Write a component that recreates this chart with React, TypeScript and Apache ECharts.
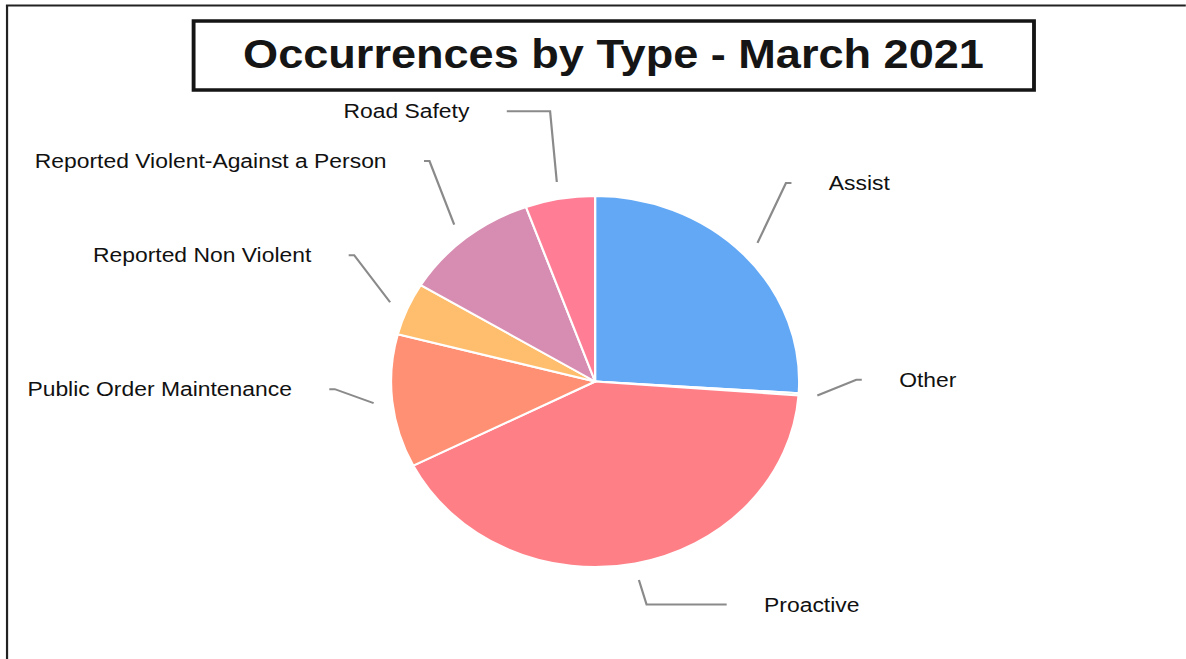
import React, { useEffect, useRef } from "react";
import * as echarts from "echarts";

// ---- data ----
const categories = [
  "Assist",
  "Other",
  "Proactive",
  "Public Order Maintenance",
  "Reported Non Violent",
  "Reported Violent-Against a Person",
  "Road Safety",
];
const values = [26.0, 0.2, 41.3, 11.6, 4.6, 10.8, 5.5];
const colors = ["#62a8f5", "#8fd19e", "#ff7f87", "#ff9073", "#ffbe6e", "#d78db1", "#ff7e95"];
const titleText = "Occurrences by Type - March 2021";

// ---- layout ----
const SX = 1.1; // horizontal stretch of the reference
const W = 1186 / SX;
const H = 659;
const CX = 541;
const CY = 381.5;
const R = 185.5;
const FONT = "'Liberation Sans', Arial, Helvetica, sans-serif";

export default function App() {
  const ref = useRef<HTMLDivElement>(null);
  useEffect(() => {
    const chart = echarts.init(ref.current!, null, { renderer: "svg" });
    const total = values.reduce((a, b) => a + b, 0);
    const mids: number[] = [];
    let acc = 0;
    values.forEach((v) => {
      mids.push(acc + v / 2);
      acc += v;
    });
    chart.setOption({
      animation: false,
      backgroundColor: "#ffffff",
      title: {
        text: titleText,
        left: 176,
        top: 21,
        padding: [12, 45, 16, 45],
        borderColor: "#151515",
        borderWidth: 3.5,
        textStyle: {
          fontFamily: FONT,
          fontWeight: "bold",
          fontSize: 41,
          color: "#151515",
        },
      },
      graphic: [
        {
          type: "line",
          shape: { x1: 6.4, y1: 5, x2: 6.4, y2: H },
          style: { stroke: "#222", lineWidth: 2 },
          silent: true,
        },
        {
          type: "line",
          shape: { x1: 5.4, y1: 5.5, x2: W, y2: 5.5 },
          style: { stroke: "#222", lineWidth: 2 },
          silent: true,
        },
      ],
      series: [
        {
          type: "pie",
          center: [CX, CY],
          radius: R,
          startAngle: 90,
          clockwise: true,
          avoidLabelOverlap: false,
          silent: true,
          data: categories.map((name, i) => ({
            name,
            value: values[i],
            itemStyle: { color: colors[i] },
          })),
          itemStyle: { borderColor: "#ffffff", borderWidth: 2 },
          label: {
            show: true,
            color: "#111111",
            fontSize: 20.8,
            fontFamily: FONT,
            overflow: "none",
          },
          labelLine: {
            show: true,
            length: 20,
            length2: 10,
            lineStyle: { color: "#8a8a8a", width: 2 },
          },
          labelLayout: (p: any) => {
            const a = (mids[p.dataIndex] / total) * Math.PI * 2;
            const dx = Math.sin(a);
            const dy = -Math.cos(a);
            const s = [CX + dx * (R + 17), CY + dy * (R + 17)];
            const e = [
              CX + dx * 238,
              CY + dy * 250 - 23 + (dy < 0 ? -6 : 4) * Math.abs(dx),
            ];
            const side = dx >= 0 ? 1 : -1;
            const k = dy > 0 ? 120 : 60;
            const tail = Math.max(5, k * (1 - Math.abs(dx) / 0.5));
            const t = [e[0] + side * tail, e[1]];
            return {
              x: t[0] + side * 34,
              y: e[1],
              align: side > 0 ? "left" : "right",
              verticalAlign: "middle",
              labelLinePoints: [s, e, t],
            };
          },
          emphasis: { disabled: true },
        },
      ],
    });
    return () => chart.dispose();
  }, []);
  return (
    <div
      ref={ref}
      style={{
        position: "absolute",
        left: 0,
        top: 0,
        width: W,
        height: H,
        transform: `scaleX(${SX})`,
        transformOrigin: "0 0",
      }}
    />
  );
}
